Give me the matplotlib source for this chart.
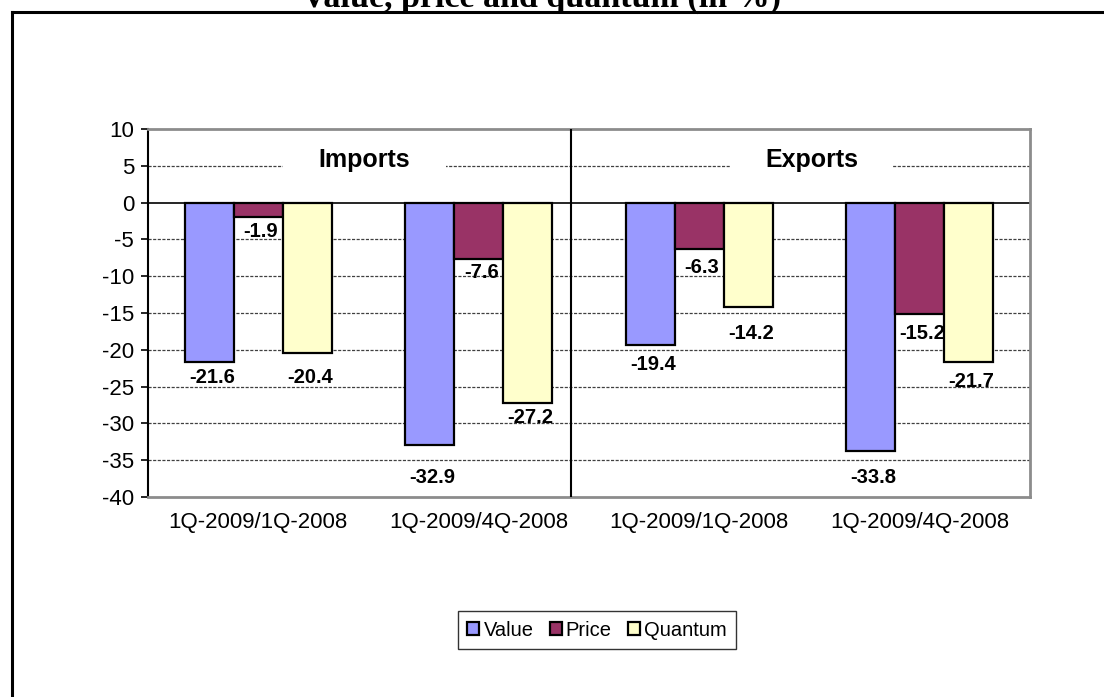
import matplotlib
matplotlib.use("Agg")
import matplotlib.pyplot as plt
from matplotlib.patches import Rectangle, Patch
from matplotlib.lines import Line2D
import numpy as np

plt.rcParams['font.family'] = ['Liberation Sans', 'DejaVu Sans']

categories = ["1Q-2009/1Q-2008", "1Q-2009/4Q-2008", "1Q-2009/1Q-2008", "1Q-2009/4Q-2008"]
series_names = ["Value", "Price", "Quantum"]
value = [-21.6, -32.9, -19.4, -33.8]
price = [-1.9, -7.6, -6.3, -15.2]
quantum = [-20.4, -27.2, -14.2, -21.7]
section_labels = ["Imports", "Exports"]
yticks = [10, 5, 0, -5, -10, -15, -20, -25, -30, -35, -40]
title = "Value, price and quantum (in %)"

colors = ["#9999FF", "#993366", "#FFFFCC"]
# label offsets below bar ends (pixels), per series per category
label_offsets = [[15.5, 33, 19, 26], [15, 14, 19, 19], [25, 15, 26, 19]]

fig = plt.figure(figsize=(11.04, 6.97), dpi=100)
W, H = 1104, 697

# outer frame (extends beyond the right and bottom edges)
fig.add_artist(Line2D([12 / W, 1.01], [1 - 12 / H, 1 - 12 / H], transform=fig.transFigure, color="black", lw=2.2))
fig.add_artist(Line2D([12 / W, 12 / W], [1 - 12 / H, -0.01], transform=fig.transFigure, color="black", lw=2.2))

fig.text(541 / W, 1 - 7 / H, title, family="Liberation Serif", fontweight="bold", fontsize=24.5,
         ha="center", va="baseline")

ax = fig.add_axes([148 / W, 1 - 497 / H, (1030 - 148) / W, (497 - 129) / H])

x = np.arange(len(categories))
w = 1 / 4.5
series = [value, price, quantum]
for i, (vals, col) in enumerate(zip(series, colors)):
    ax.bar(x + (i - 1) * w, vals, width=w, color=col, edgecolor="black", linewidth=1.6, zorder=3)
    for j, v in enumerate(vals):
        ax.annotate(f"{v:.1f}", xy=(x[j] + (i - 1) * w, v), xytext=(2, -label_offsets[i][j] * 0.72),
                    textcoords="offset points", ha="center", va="center", fontsize=14.5,
                    fontweight="bold", zorder=2.5)

ax.set_xlim(-0.5, len(categories) - 0.5)
ax.set_ylim(-40, 10)
ax.set_yticks(yticks)
ax.set_yticklabels([str(t) for t in yticks], fontsize=16)
ax.set_xticks(x)
ax.set_xticklabels(categories, fontsize=16)
ax.tick_params(axis="x", length=0, pad=11)
ax.tick_params(axis="y", length=5, width=1.2, pad=5, direction="out")

for t in yticks[1:-1]:
    if t == 0:
        ax.axhline(0, color="black", lw=1.2, zorder=2)
    else:
        ax.axhline(t, color="#404040", lw=0.9, ls=(0, (2.5, 1.2)), zorder=1)

for s in ["top", "right", "bottom"]:
    ax.spines[s].set_color("#8c8c8c")
    ax.spines[s].set_linewidth(2)
ax.spines["left"].set_color("black")
ax.spines["left"].set_linewidth(1.5)

# divider between imports and exports
ax.axvline(1.42, color="black", lw=1.5, zorder=4)

# section labels with white knock-out boxes
for cx, lab in zip([0.48, 2.51], section_labels):
    ax.add_patch(Rectangle((cx - 0.37, 3.2), 0.74, 5.0, facecolor="white", edgecolor="none", zorder=1.5))
    ax.text(cx, 5.8, lab, ha="center", va="center", fontsize=18, fontweight="bold", zorder=2)

handles = [Patch(facecolor=c, edgecolor="black", linewidth=1.6) for c in colors]
leg = fig.legend(handles, series_names, loc="center", bbox_to_anchor=(597 / W, 1 - 630 / H), ncol=3,
                 fontsize=14.5, frameon=True, fancybox=False, handlelength=0.6, handleheight=0.6,
                 handletextpad=0.2, columnspacing=0.8, borderpad=0.45)
leg.get_frame().set_edgecolor("black")
leg.get_frame().set_linewidth(1.0)

fig.savefig("out.png", dpi=100)
